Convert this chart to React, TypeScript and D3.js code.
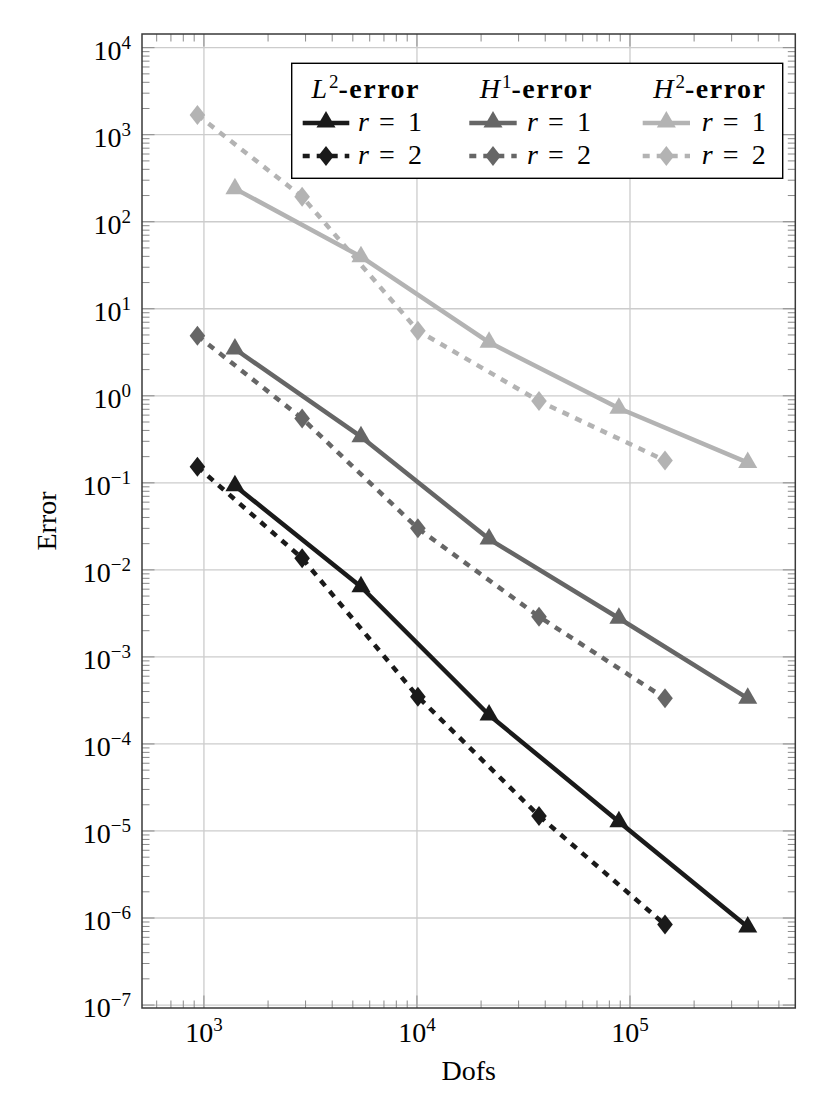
import React from 'react';
import * as d3 from 'd3';

// dofs of the two discretisations
const dofsR1 = [1398, 5460, 21800, 88700, 357000];
const dofsR2 = [932, 2890, 10100, 37400, 146000];

// errors
const l2R1 = [0.0927, 0.0064, 2.15e-4, 1.28e-5, 7.9e-7];
const l2R2 = [0.153, 0.0136, 3.49e-4, 1.49e-5, 8.4e-7];
const h1R1 = [3.45, 0.339, 0.0226, 0.00278, 3.34e-4];
const h1R2 = [4.9, 0.55, 0.03, 0.0029, 3.34e-4];
const h2R1 = [240, 39.7, 4.12, 0.72, 0.171];
const h2R2 = [1686, 194, 5.6, 0.871, 0.18];

const xExps = [3, 4, 5];
const yExps = [4, 3, 2, 1, 0, -1, -2, -3, -4, -5, -6, -7];
const normLabels = [
  { sym: 'L', sup: '2' },
  { sym: 'H', sup: '1' },
  { sym: 'H', sup: '2' },
];

const C_L2 = '#1a1a1a';
const C_H1 = '#666666';
const C_H2 = '#b3b3b3';
const FONT = '"Liberation Serif", "Times New Roman", serif';

const series = [
  { dofs: dofsR1, err: l2R1, color: C_L2, dashed: false },
  { dofs: dofsR2, err: l2R2, color: C_L2, dashed: true },
  { dofs: dofsR1, err: h1R1, color: C_H1, dashed: false },
  { dofs: dofsR2, err: h1R2, color: C_H1, dashed: true },
  { dofs: dofsR1, err: h2R1, color: C_H2, dashed: false },
  { dofs: dofsR2, err: h2R2, color: C_H2, dashed: true },
];

const TRI = 'M0,-11L9.53,5.5L-9.53,5.5Z';
const DIA = 'M0,-10L7.8,0L0,10L-7.8,0Z';
const DASH = '7 7';
const LW = 4.5;

const Pow = ({ e }: { e: number }) => (
  <>
    <tspan>10</tspan>
    <tspan dy={-11} fontSize={19}>{e < 0 ? '\u2212' + Math.abs(e) : String(e)}</tspan>
  </>
);

export default function App() {
  const left = 142, right = 795.3, top = 34, bottom = 1008;
  const x = d3.scaleLog().domain([512, 597000]).range([left, right]);
  const y = d3.scaleLog().domain([10 ** 4.157, 10 ** -7.034]).range([top, bottom]);

  const isPow = (v: number) => Math.abs(Math.log10(v) - Math.round(Math.log10(v))) < 1e-9;
  const xMinor = x.ticks(40).filter(v => !isPow(v));
  const yMinor = y.ticks(40).filter(v => !isPow(v));

  const line = d3.line<[number, number]>().x(d => x(d[0])).y(d => y(d[1]));

  const legCols = [
    { x0: 302.7, x1: 349.3, tx: 358, hx: 420, color: C_L2 },
    { x0: 469.3, x1: 516.7, tx: 527, hx: 593, color: C_H1 },
    { x0: 642.7, x1: 690, tx: 701.7, hx: 766.5, color: C_H2 },
  ];
  const legRows = [
    { y: 123, ty: 131, dashed: false, r: '1' },
    { y: 156, ty: 164, dashed: true, r: '2' },
  ];

  return (
    <div style={{ position: 'absolute', left: 0, top: 0 }}>
      <svg width={831} height={1116} style={{ display: 'block', background: '#fff' }} fontFamily={FONT}>
        <defs>
          <clipPath id="plot">
            <rect x={left} y={top} width={right - left} height={bottom - top} />
          </clipPath>
        </defs>
        {/* grid */}
        <g stroke="#cccccc" strokeWidth={1.3}>
          {xExps.map(e => (
            <line key={'gx' + e} x1={x(10 ** e)} x2={x(10 ** e)} y1={top} y2={bottom} />
          ))}
          {yExps.map(e => (
            <line key={'gy' + e} x1={left} x2={right} y1={y(10 ** e)} y2={y(10 ** e)} />
          ))}
        </g>
        {/* ticks, inward */}
        <g stroke="#8a8a8a" strokeWidth={1}>
          {xMinor.map((v, i) => (
            <g key={'xm' + i}>
              <line x1={x(v)} x2={x(v)} y1={bottom} y2={bottom - 7.5} />
              <line x1={x(v)} x2={x(v)} y1={top} y2={top + 7.5} />
            </g>
          ))}
          {yMinor.map((v, i) => (
            <g key={'ym' + i}>
              <line x1={left} x2={left + 7.5} y1={y(v)} y2={y(v)} />
              <line x1={right} x2={right - 7.5} y1={y(v)} y2={y(v)} />
            </g>
          ))}
          {xExps.map(e => (
            <g key={'xM' + e}>
              <line x1={x(10 ** e)} x2={x(10 ** e)} y1={bottom} y2={bottom - 12.5} />
              <line x1={x(10 ** e)} x2={x(10 ** e)} y1={top} y2={top + 12.5} />
            </g>
          ))}
          {yExps.map(e => (
            <g key={'yM' + e}>
              <line x1={left} x2={left + 12.5} y1={y(10 ** e)} y2={y(10 ** e)} />
              <line x1={right} x2={right - 12.5} y1={y(10 ** e)} y2={y(10 ** e)} />
            </g>
          ))}
        </g>
        {/* series */}
        <g clipPath="url(#plot)">
          {series.map((s, i) => {
            const pts = s.dofs.map((d, j) => [d, s.err[j]] as [number, number]);
            return (
              <g key={'s' + i}>
                <path d={line(pts) || ''} fill="none" stroke={s.color} strokeWidth={LW}
                  strokeDasharray={s.dashed ? DASH : undefined} strokeLinejoin="round" />
                {pts.map((p, j) => (
                  <path key={j} d={s.dashed ? DIA : TRI} fill={s.color}
                    transform={`translate(${x(p[0])},${y(p[1])})`} />
                ))}
              </g>
            );
          })}
        </g>
        {/* frame */}
        <rect x={left} y={top} width={right - left} height={bottom - top} fill="none" stroke="#3a3a3a" strokeWidth={1.5} />
        {/* tick labels */}
        <g fontSize={28} fill="#000">
          {xExps.map(e => (
            <text key={'xl' + e} x={x(10 ** e)} y={1042} textAnchor="middle"><Pow e={e} /></text>
          ))}
          {yExps.map(e => (
            <text key={'yl' + e} x={131} y={y(10 ** e) + 12} textAnchor="end"><Pow e={e} /></text>
          ))}
        </g>
        {/* axis titles */}
        <text x={(left + right) / 2} y={1080} textAnchor="middle" fontSize={28}>Dofs</text>
        <text transform={`translate(56,${(top + bottom) / 2}) rotate(-90)`} textAnchor="middle" fontSize={28}>Error</text>
        {/* legend */}
        <rect x={291.7} y={63.3} width={491} height={115} fill="#fff" stroke="#000" strokeWidth={1.4} />
        {legCols.map((c, i) => (
          <g key={'lc' + i}>
            <text x={c.hx} y={98.3} fontSize={28} textAnchor="end">
              <tspan fontStyle="italic">{normLabels[i].sym}</tspan>
              <tspan dx={2} dy={-10} fontSize={19}>{normLabels[i].sup}</tspan>
              <tspan dy={10} fontWeight="bold" style={{ letterSpacing: '1.5px' }}>-error</tspan>
            </text>
            {legRows.map((r, k) => (
              <g key={k}>
                <line x1={c.x0} x2={c.x1} y1={r.y} y2={r.y} stroke={c.color} strokeWidth={LW}
                  strokeDasharray={r.dashed ? DASH : undefined} />
                <path d={r.dashed ? DIA : TRI} fill={c.color}
                  transform={`translate(${(c.x0 + c.x1) / 2},${r.y + (r.dashed ? 0 : -1)})`} />
                <text y={r.ty} fontSize={28}>
                  <tspan x={c.tx} fontStyle="italic">r</tspan>
                  <tspan x={c.tx + 21}>=</tspan>
                  <tspan x={c.tx + 50}>{r.r}</tspan>
                </text>
              </g>
            ))}
          </g>
        ))}
      </svg>
    </div>
  );
}
